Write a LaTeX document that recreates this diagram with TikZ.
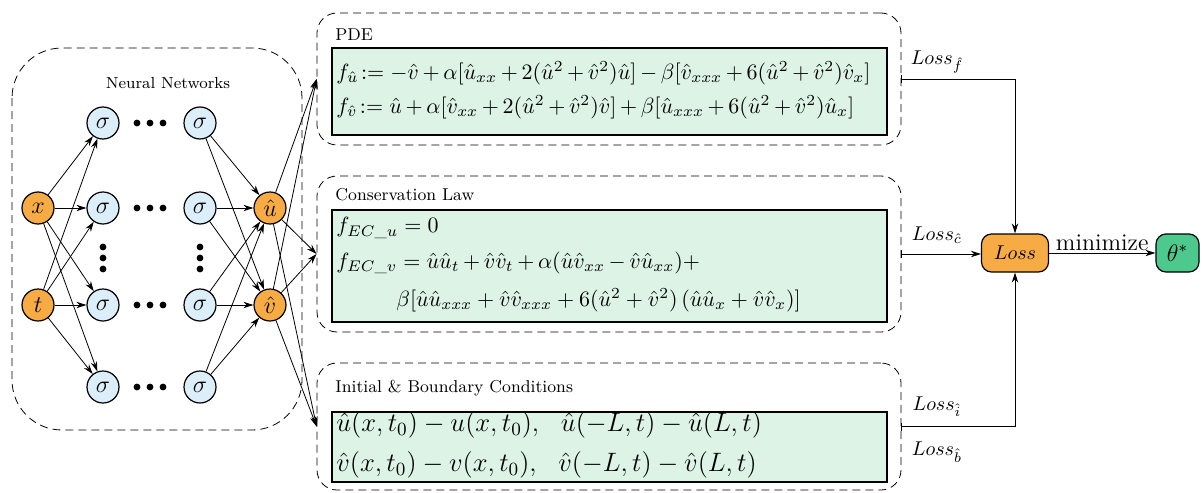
\RequirePackage{fix-cm}
\documentclass[tikz,border=0pt]{standalone}
\usepackage{amsmath}
\usetikzlibrary{arrows.meta}
\definecolor{sigmablue}{HTML}{DCEEF9}
\definecolor{nodeorange}{HTML}{F7AB45}
\definecolor{eqgreen}{HTML}{DCF3E6}
\definecolor{thetagreen}{HTML}{4DC98E}
\tikzset{
	neuron/.style = {circle, draw, fill = sigmablue, line width = 0.6pt, minimum size = 16pt, inner sep = 0pt, font = \large},
	io/.style = {neuron, fill = nodeorange},
	group/.style = {draw, dash pattern = on 4pt off 2.5pt, rounded corners = 10pt, inner sep = 0pt},
	eqbox/.style = {draw, fill = eqgreen, line width = 0.6pt, inner sep = 0pt},
	lossbox/.style = {draw, rounded corners = 5pt, line width = 0.6pt, minimum height = 19pt, inner sep = 0pt},
	grouptitle/.style = {anchor = west, font = \fontsize{8.6}{10}\selectfont, inner sep = 0pt},
	eq/.style = {anchor = west, inner sep = 0pt, font = \fontsize{11}{13}\selectfont},
	bigeq/.style = {anchor = west, inner sep = 0pt, font = \fontsize{13.3}{16}\selectfont},
}
\begin{document}
\begin{tikzpicture} [x = 0.5pt, y = -0.5pt, >={Stealth[length = 5pt, width = 3.2pt]}]
	\useasboundingbox (0,0) rectangle (1202,492);
	% network
	\draw [dash pattern = on 4pt off 2.5pt, rounded corners = 25pt] (12,48) rectangle (302,430);
	\node (nntitle) at (168,83) {\footnotesize Neural Networks};
	\node [io] (x) at (38,208) {$x$};
	\node [io] (t) at (38,305) {$t$};
	\node [io] (u) at (270,208) {$\hat{u}$};
	\node [io] (v) at (270,305) {$\hat{v}$};
	\foreach \r/\y in {1/123, 2/208, 3/305, 4/387} {
		\node [neuron] (a\r) at (103,\y) {$\sigma$};
		\node [neuron] (b\r) at (200,\y) {$\sigma$};
		\foreach \d in {-13,0,13} \fill (150+\d,\y) circle (1.7pt);
		\draw [->] (x) -- (a\r);
		\draw [->] (t) -- (a\r);
		\draw [->] (b\r) -- (u);
		\draw [->] (b\r) -- (v);
	}
	\foreach \c in {103,200} \foreach \d in {-11,0,11} \fill (\c,258+\d) circle (1.7pt);
	% residual groups
	\node [group, minimum width = 292pt, minimum height = 66pt] (pde) at (609,79) {};
	\node [group, minimum width = 292pt, minimum height = 78pt] (cons) at (609,254) {};
	\node [group, minimum width = 292pt, minimum height = 63.5pt] (ibc) at (609,426.5) {};
	\node [eqbox, minimum width = 277.5pt, minimum height = 43.5pt] (pdeeq) at (609.5,91.5) {};
	\node [eqbox, minimum width = 277.5pt, minimum height = 56pt] (conseq) at (609.5,266) {};
	\node [eqbox, minimum width = 277.5pt, minimum height = 35pt] (ibceq) at (609.5,447) {};
	\node [grouptitle] (pdetitle) at (335,35) {PDE};
	\node [grouptitle] (constitle) at (335,195) {Conservation Law};
	\node [grouptitle] (ibctitle) at (335,388) {Initial \& Boundary Conditions};
	\node [eq] (fu) at (336,73) {$\medmuskip=3mu f_{\hat{u}}\!:= -\hat{v} + \alpha[\hat{u}_{xx} + 2(\hat{u}^2 + \hat{v}^2)\hat{u}] - \beta[\hat{v}_{xxx} + 6(\hat{u}^2 + \hat{v}^2)\hat{v}_x]$};
	\node [eq] (fv) at (336,107) {$\medmuskip=3mu f_{\hat{v}}\!:= \hat{u} + \alpha[\hat{v}_{xx} + 2(\hat{u}^2 + \hat{v}^2)\hat{v}] + \beta[\hat{u}_{xxx} + 6(\hat{u}^2 + \hat{v}^2)\hat{u}_x]$};
	\node [eq] (ecu) at (336,228) {$f_{EC\_u} = 0$};
	\node [eq] (ecv) at (336,263) {$\medmuskip=3mu f_{EC\_v} = \hat{u}\hat{u}_t + \hat{v}\hat{v}_t + \alpha(\hat{u}\hat{v}_{xx} - \hat{v}\hat{u}_{xx}) +$};
	\node [eq] (ecv2) at (396,300) {$\beta[\hat{u}\hat{u}_{xxx} + \hat{v}\hat{v}_{xxx} + 6(\hat{u}^2 + \hat{v}^2)\,(\hat{u}\hat{u}_x + \hat{v}\hat{v}_x)]$};
	\node [bigeq] (ic) at (336,425) {$\hat{u}(x,t_0) - u(x,t_0),\ \ \hat{u}(-L,t) - \hat{u}(L,t)$};
	\node [bigeq] (bc) at (336,465) {$\hat{v}(x,t_0) - v(x,t_0),\ \ \hat{v}(-L,t) - \hat{v}(L,t)$};
	\foreach \o in {u,v} \foreach \g in {pde,cons,ibc} \draw [->] (\o) -- (\g.west);
	% loss
	\node [lossbox, fill = nodeorange, minimum width = 33.5pt] (loss) at (1015,253) {$Loss$};
	\node [lossbox, fill = thetagreen, minimum width = 21.5pt, font = \large] (theta) at (1177.5,253) {$\theta^*$};
	\draw [{Bar[width = 4pt]}->] (pde.east) -| (loss.north);
	\draw [{Bar[width = 4pt]}->] (cons.east) -- (cons.east -| loss.west);
	\draw [{Bar[width = 4pt]}->] (ibc.east) -| (loss.south);
	\draw [->] (loss) -- node [above, inner sep = 1pt, font = \large] {minimize} (theta);
	\node (lf) at (937,62) {$Loss_{\hat{f}}$};
	\node (lc) at (937,235) {$Loss_{\hat{c}}$};
	\node (li) at (937,407) {$Loss_{\hat{i}}$};
	\node (lb) at (937,452) {$Loss_{\hat{b}}$};
\end{tikzpicture}
\end{document}
